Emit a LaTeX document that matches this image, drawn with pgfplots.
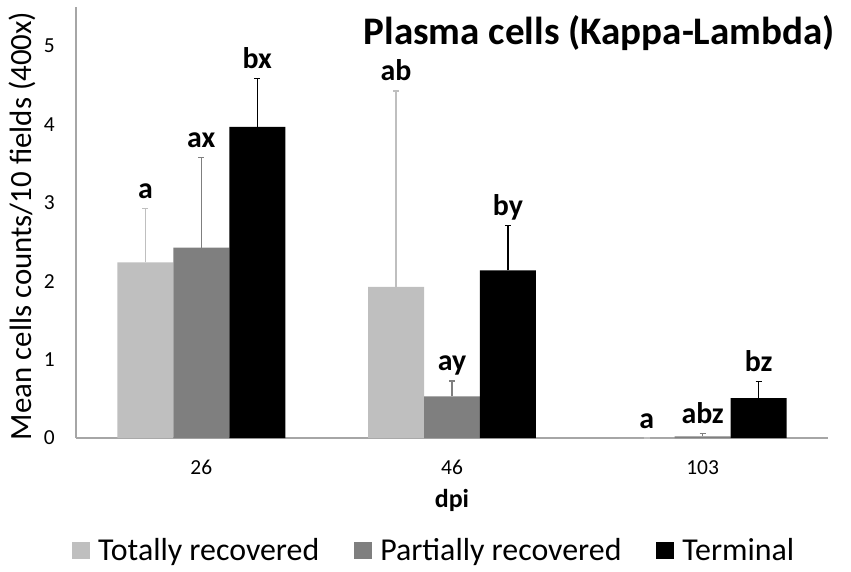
\documentclass[border=0pt]{standalone}
\usepackage{pgfplots}
\pgfplotsset{compat=1.18}
\usepackage{fontspec}
\setmainfont{Carlito}
\definecolor{lgray}{HTML}{BFBFBF}
\definecolor{dgray}{HTML}{7F7F7F}
\definecolor{axgray}{HTML}{A6A6A6}
\begin{document}
\begin{tikzpicture}
\useasboundingbox (0,0) rectangle (851bp,572bp);
\begin{axis}[
 at={(76bp,134bp)}, anchor=south west,
 scale only axis, width=752bp, height=431bp,
 xmin=-0.5, xmax=2.5, ymin=0, ymax=5.5,
 axis x line*=bottom, axis y line*=left,
 axis line style={-, draw=axgray, line width=1.5bp},
 xtick={0,1,2}, xticklabels={26,46,103},
 ytick={0,1,2,3,4,5},
 major tick length=0pt,
 /pgf/number format/assume math mode=true,
 tick label style={font=\fontsize{21.5}{25}\selectfont, inner sep=0pt},
 yticklabel style={anchor=east, xshift=-21bp},
 xticklabel style={anchor=base, yshift=-36bp},
 xlabel={\textbf{dpi}},
 xlabel style={at={(axis description cs:0.5,-0.146)}, anchor=center, font=\fontsize{26}{30}\selectfont},
 ylabel={Mean cells counts/10 fields (400x)},
 ylabel style={at={(axis description cs:-0.0718,0.492)}, anchor=center, font=\fontsize{31}{36}\selectfont},
 legend columns=3,
 legend style={at={(axis description cs:-0.0053,-0.2599)}, anchor=west, draw=none, fill=none, inner sep=0pt,
   font=\fontsize{32}{38}\selectfont, nodes={inner sep=0pt},
   /tikz/every odd column/.append style={column sep=8bp},
   /tikz/every even column/.append style={column sep=35bp}},
 legend image code/.code={\fill[#1] (0bp,-8.5bp) rectangle (18bp,8.5bp);},
 clip=false,
]
\addplot[ybar, bar width=56bp, bar shift=0bp, fill=lgray, draw=none,
  error bars/.cd, y dir=plus, y explicit,
  error bar style={lgray, line width=1.5bp},
  error mark options={rotate=90, lgray, mark size=3bp, line width=1.5bp}]
  coordinates {(-0.2231,2.24) +- (0,0.69) (0.7769,1.93) +- (0,2.50) (1.7769,0) +- (0,0)};
\addplot[ybar, bar width=56bp, bar shift=0bp, fill=dgray, draw=none,
  error bars/.cd, y dir=plus, y explicit,
  error bar style={dgray, line width=1.5bp},
  error mark options={rotate=90, dgray, mark size=3bp, line width=1.5bp}]
  coordinates {(0,2.43) +- (0,1.15) (1,0.53) +- (0,0.20) (2,0.02) +- (0,0.04)};
\addplot[ybar, bar width=56bp, bar shift=0bp, fill=black, draw=none,
  error bars/.cd, y dir=plus, y explicit,
  error bar style={black, line width=1.5bp},
  error mark options={rotate=90, black, mark size=3bp, line width=1.5bp}]
  coordinates {(0.2231,3.97) +- (0,0.62) (1.2231,2.14) +- (0,0.57) (2.2231,0.51) +- (0,0.21)};
\addplot[forget plot, draw=none, mark=none, nodes near coords, point meta=explicit symbolic,
  every node near coord/.append style={anchor=base, yshift=10bp, inner sep=0pt, text=black, font=\bfseries\fontsize{30}{36}\selectfont}]
  coordinates {(-0.2231,2.93)[a] (0,3.58)[ax] (0.2231,4.59)[bx]
               (0.7769,4.43)[ab] (1,0.73)[ay] (1.2231,2.71)[by]
               (1.7769,0)[a] (2,0.06)[abz] (2.2231,0.72)[bz]};
\legend{Totally recovered, Partially recovered, Terminal}
\end{axis}
\node[anchor=base east, inner sep=0pt, font=\bfseries\fontsize{39.2}{45}\selectfont] at (835bp,527bp) {Plasma cells (Kappa-Lambda)};
\end{tikzpicture}
\end{document}
